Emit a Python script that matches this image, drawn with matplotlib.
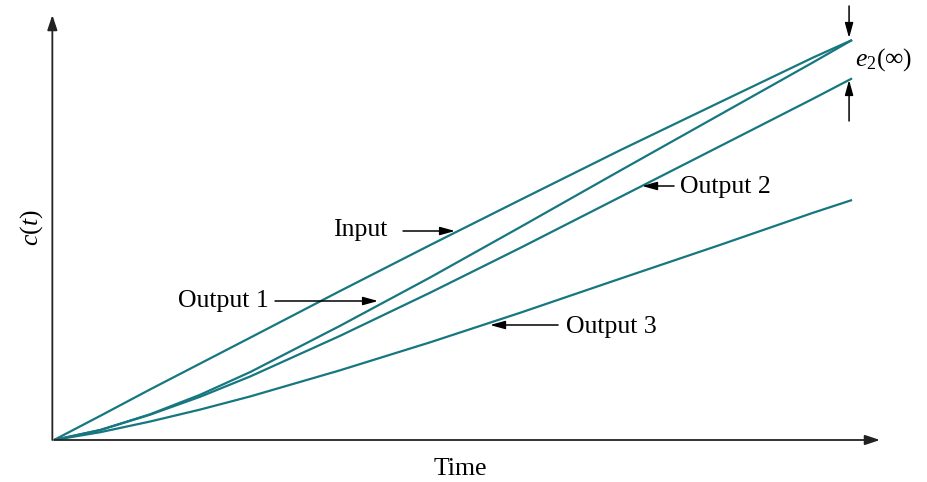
import matplotlib
matplotlib.use("Agg")
import matplotlib.pyplot as plt

plt.rcParams["font.family"] = ["Liberation Serif", "DejaVu Serif"]
plt.rcParams["mathtext.fontset"] = "custom"
plt.rcParams["mathtext.rm"] = "Liberation Serif"
plt.rcParams["mathtext.it"] = "Liberation Serif:italic"

# values (time, c(t)), arbitrary units
time = [0, 0.58, 1.2, 1.83, 2.46, 3.58, 4.71, 5.84, 7.09, 8.35, 9.51, 10.0]
input_c = [0, 0.604, 1.26, 1.91, 2.56, 3.72, 4.87, 6.0, 7.24, 8.45, 9.56, 10.0]
output1 = [0, 0.25, 0.64, 1.13, 1.70, 2.85, 4.06, 5.32, 6.73, 8.14, 9.44, 10.0]
output2 = [0, 0.25, 0.63, 1.08, 1.59, 2.60, 3.68, 4.80, 6.07, 7.35, 8.53, 9.04]
output3 = [0, 0.195, 0.46, 0.76, 1.09, 1.74, 2.44, 3.18, 4.03, 4.88, 5.68, 6.0]

teal = "#177780"
fs = 18.5

fig = plt.figure(figsize=(9.28, 4.82), dpi=100)
W, H = 928, 482
ax = fig.add_axes([54 / W, (H - 440) / H, (880 - 54) / W, (440 - 15) / H])
ax.set_xlim(0, 10.35)
ax.set_ylim(0, 10.625)
ax.axis("off")

for series in (input_c, output1, output2, output3):
    ax.plot(time, series, color=teal, lw=1.6, solid_capstyle="butt",
            solid_joinstyle="round")

# axes with arrowheads
arrow_ax = dict(arrowstyle="-|>,head_length=0.9,head_width=0.3", color="#222222",
                lw=1.3, shrinkA=0, shrinkB=0)
ax.annotate("", xy=(1, 0), xytext=(0, 0), xycoords="axes fraction",
            arrowprops=arrow_ax, annotation_clip=False)
ax.annotate("", xy=(-0.002, 1), xytext=(-0.002, 0), xycoords="axes fraction",
            arrowprops=arrow_ax, annotation_clip=False)


def px(x, y):
    return ((x - 54) / 79.8, (440 - y) / 40)


arrow_lab = dict(arrowstyle="-|>,head_length=0.9,head_width=0.25", color="black",
                 lw=1.1, shrinkA=0, shrinkB=0)


def label(text, xy_tip, xy_tail, xy_text, ha="left"):
    ax.annotate("", xy=px(*xy_tip), xytext=px(*xy_tail), arrowprops=arrow_lab,
                annotation_clip=False)
    ax.text(*px(*xy_text), text, fontsize=fs, ha=ha, va="center")


label("Input", (455, 231), (403, 231), (333, 230))
label("Output 1", (378, 301), (275, 301), (178, 301))
label("Output 2", (642, 186), (674, 186), (680, 187))
label("Output 3", (490, 325), (558, 325), (566, 327))

# steady-state error marker
ax.annotate("", xy=px(849, 38), xytext=px(849, 6), arrowprops=arrow_lab,
            annotation_clip=False)
ax.annotate("", xy=px(849, 80), xytext=px(849, 121), arrowprops=arrow_lab,
            annotation_clip=False)
ax.text(*px(855, 60), r"$e_2(\infty)$", fontsize=fs, ha="left", va="center")

ax.text(*px(460, 469), "Time", fontsize=fs, ha="center", va="center")
ax.text(*px(32, 228), r"$c(t)$", fontsize=fs, ha="center", va="center",
        rotation=90)

fig.savefig("out.png", dpi=100, facecolor="white")
